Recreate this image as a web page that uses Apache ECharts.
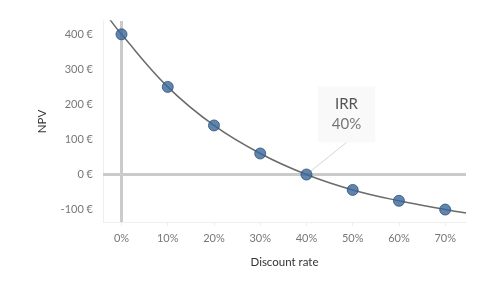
<!DOCTYPE html>
<html><head><meta charset="utf-8">
<script src="https://cdn.jsdelivr.net/npm/echarts@6/dist/echarts.min.js"></script>
<style>html,body{margin:0;padding:0;background:#fff}#c{width:500px;height:290px}</style>
</head><body><div id="c"></div>
<script>
// Data
const rates = [0, 10, 20, 30, 40, 50, 60, 70];             // discount rate, %
const npv = [400, 250, 140, 60, 0, -44, -75, -100];         // NPV, €
const curveStart = [-2.5, 442];                              // where the curve leaves the top of the plot
const curveEnd = [74.5, -110];                               // where the curve meets the right edge
const yTicks = [-100, 0, 100, 200, 300, 400];
const xTicks = [0, 10, 20, 30, 40, 50, 60, 70];
const irrRate = 40;
const irrLabel = ['IRR', '40%'];

const pts = rates.map((r, i) => [r, npv[i]]);
const curve = [curveStart].concat(pts, [curveEnd]);
const font = 'Lato, "Open Sans", sans-serif';

const chart = echarts.init(document.getElementById('c'), null, {renderer: 'canvas'});
chart.setOption({
  animation: false,
  grid: {left: 103, right: 34, top: 21, bottom: 68},
  xAxis: {
    type: 'value', min: -4, max: 74.5,
    name: 'Discount rate', nameLocation: 'middle', nameGap: 34,
    nameTextStyle: {color: '#333', fontSize: 11.5, fontFamily: font},
    axisLine: {show: true, onZero: false, lineStyle: {color: '#eeeeee'}},
    axisTick: {show: true, customValues: xTicks, length: 4, lineStyle: {color: '#eeeeee'}},
    axisLabel: {customValues: xTicks, formatter: v => v + '%', color: '#777', fontSize: 11, fontFamily: font, margin: 11},
    splitLine: {show: false}
  },
  yAxis: {
    type: 'value', min: -135.5, max: 438,
    name: 'NPV', nameLocation: 'middle', nameGap: 55, nameRotate: 90,
    nameTextStyle: {color: '#333', fontSize: 11.5, fontFamily: font},
    axisLine: {show: true, onZero: false, lineStyle: {color: '#eeeeee'}},
    axisTick: {show: false},
    axisLabel: {customValues: yTicks, formatter: v => v + ' €', color: '#777', fontSize: 11, fontFamily: font, margin: 10},
    splitLine: {show: false}
  },
  series: [
    {
      type: 'line', data: curve, smooth: 0.4, showSymbol: false, silent: true, z: 3,
      lineStyle: {color: '#6b6b6b', width: 1.5},
      markLine: {
        silent: true, symbol: 'none', label: {show: false}, z: 1,
        lineStyle: {color: '#cbcbcb', width: 3, type: 'solid'},
        emphasis: {disabled: true},
        data: [{xAxis: 0}, {yAxis: 0}]
      }
    },
    {
      type: 'scatter', data: pts, symbolSize: 11, z: 4,
      itemStyle: {color: '#3a6799', borderColor: '#27507f', borderWidth: 1}
    },
    {
      type: 'scatter', data: [[irrRate, 0]], symbolSize: 1, z: 2, silent: true,
      itemStyle: {color: 'rgba(0,0,0,0)'},
      label: {
        show: true,
        formatter: '{a|' + irrLabel[0] + '}\n{b|' + irrLabel[1] + '}',
        backgroundColor: '#f7f7f7', padding: [8, 14, 8, 14],
        align: 'center', verticalAlign: 'middle',
        rich: {
          a: {fontSize: 15, color: '#2a2a2a', fontFamily: font, lineHeight: 20, align: 'center'},
          b: {fontSize: 15, color: '#555', fontFamily: font, lineHeight: 20, align: 'center'}
        }
      },
      labelLayout: {x: 346.5, y: 114.5},
      labelLine: {show: true, lineStyle: {color: '#d5d5d5', width: 1}}
    }
  ]
});
</script></body></html>
